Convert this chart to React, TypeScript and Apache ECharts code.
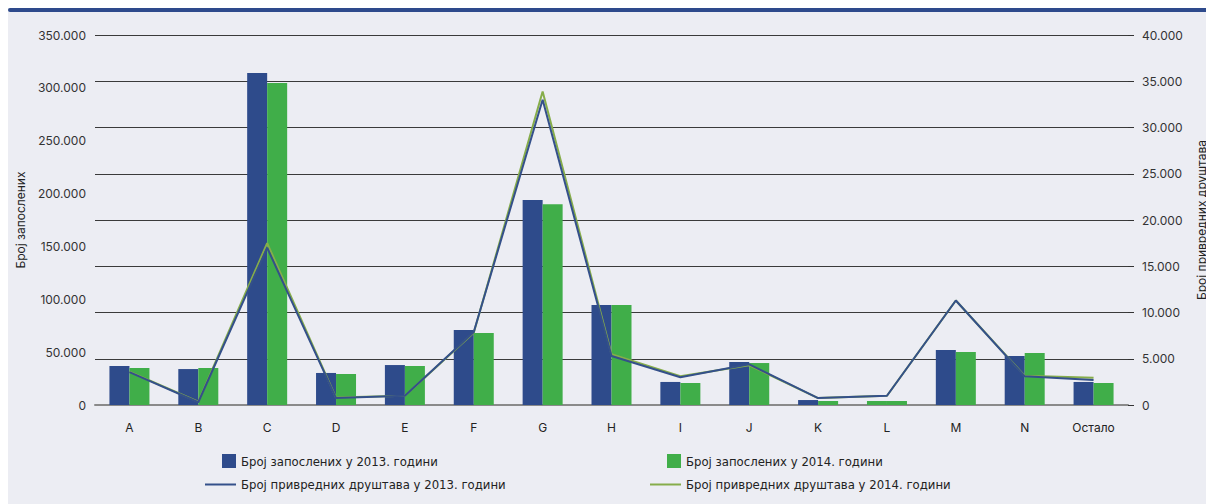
import React, { useEffect, useRef } from "react";
import * as echarts from "echarts";

const categories = ["A", "B", "C", "D", "E", "F", "G", "H", "I", "J", "K", "L", "M", "N", "Остало"];
const employees2013 = [36900, 34000, 314000, 30300, 37800, 71000, 194000, 94600, 21800, 40700, 4700, 3800, 52000, 46300, 21800];
const employees2014 = [35000, 35000, 304600, 29300, 36900, 68000, 190000, 94600, 20800, 39700, 3800, 3800, 50100, 49200, 20800];
const companies2013 = [3550, 300, 17000, 750, 1000, 7900, 33000, 5300, 3000, 4400, 750, 1000, 11300, 3100, 2700];
const companies2014 = [3600, 350, 17500, 800, 1000, 7800, 33900, 5500, 3100, 4300, 750, 1000, 11300, 3150, 2950];
const leftTicks = { min: 0, max: 350000, interval: 50000 };
const rightTicks = { min: 0, max: 40000, interval: 5000 };

const names = {
  bar13: "Број запослених у 2013. години",
  bar14: "Број запослених у 2014. години",
  line13: "Број привредних друштава у 2013. години",
  line14: "Број привредних друштава у 2014. години",
};

const BLUE = "#2e4b8b";
const GREEN = "#40ae49";
const LINE_BLUE = "#34508a";
const LINE_GREEN = "#86ad4a";
const FONT = "Inter, 'Noto Sans', sans-serif";
const LEG_FONT = "'DejaVu Sans Condensed', sans-serif";

const fmt = (v: number) => (v === 0 ? "0" : v.toLocaleString("de-DE"));

export default function App() {
  const ref = useRef<HTMLDivElement>(null);
  useEffect(() => {
    document.body.style.overflow = "hidden";
    document.documentElement.style.overflow = "hidden";
    if (!ref.current) return;
    const chart = echarts.init(ref.current, undefined, { renderer: "svg" });
    const legendText = { fontFamily: LEG_FONT, fontSize: 13, color: "#222" };
    const common = { padding: 0, textStyle: legendText };
    chart.setOption({
      animation: false,
      backgroundColor: "#ecedf3",
      graphic: [
        {
          type: "rect",
          shape: { x: 0, y: 0, width: 1206, height: 4, r: [2, 0, 0, 2] },
          style: { fill: "#2e4a8c" },
        },
      ],
      grid: { left: 87, right: 86, top: 27, bottom: 99, outerBoundsMode: "none", containLabel: false },
      legend: [
        { ...common, left: 214, top: 446, itemWidth: 14, itemHeight: 14, icon: "rect", data: [names.bar13] },
        { ...common, left: 659, top: 446, itemWidth: 14, itemHeight: 14, icon: "rect", data: [names.bar14] },
        { ...common, left: 197, top: 470, itemWidth: 31, itemHeight: 2, icon: "rect", data: [names.line13] },
        { ...common, left: 642, top: 470, itemWidth: 31, itemHeight: 2, icon: "rect", data: [names.line14] },
      ],
      xAxis: {
        type: "category",
        data: categories,
        axisLine: { lineStyle: { color: "#8a8a8a", width: 2 } },
        axisTick: { show: false },
        axisLabel: { color: "#222", fontFamily: FONT, fontSize: 12, margin: 16 },
      },
      yAxis: [
        {
          type: "value",
          ...leftTicks,
          name: "Број запослених",
          nameLocation: "middle",
          nameRotate: 90,
          nameGap: 67,
          nameTextStyle: { color: "#222", fontFamily: FONT, fontSize: 12 },
          splitLine: { show: false },
          axisLine: { show: false },
          axisTick: { show: false },
          axisLabel: { color: "#333", fontFamily: FONT, fontSize: 12, margin: 9, formatter: fmt },
        },
        {
          type: "value",
          ...rightTicks,
          position: "right",
          name: "Број привредних друштава",
          nameLocation: "middle",
          nameRotate: 90,
          nameGap: 67,
          nameTextStyle: { color: "#222", fontFamily: FONT, fontSize: 12 },
          splitLine: { lineStyle: { color: "#3a3a3a", width: 1.2 } },
          axisLine: { show: true, lineStyle: { color: "rgba(0,0,0,0)" } },
          axisTick: { show: true, length: 6, lineStyle: { color: "#333", width: 1 } },
          axisLabel: { color: "#333", fontFamily: FONT, fontSize: 12, margin: 14, formatter: fmt },
        },
      ],
      series: [
        {
          name: names.bar13,
          type: "bar",
          yAxisIndex: 0,
          barWidth: 20,
          barGap: "0%",
          itemStyle: { color: BLUE },
          data: employees2013.map((v, i) => (categories[i] === "L" ? { value: v, itemStyle: { color: GREEN } } : v)),
        },
        {
          name: names.bar14,
          type: "bar",
          yAxisIndex: 0,
          barWidth: 20,
          barGap: "0%",
          itemStyle: { color: GREEN },
          data: employees2014,
        },
        {
          name: names.line14,
          type: "line",
          yAxisIndex: 1,
          symbol: "none",
          lineStyle: { color: LINE_GREEN, width: 2 },
          itemStyle: { color: LINE_GREEN },
          data: companies2014,
        },
        {
          name: names.line13,
          type: "line",
          yAxisIndex: 1,
          symbol: "none",
          lineStyle: { color: LINE_BLUE, width: 2 },
          itemStyle: { color: LINE_BLUE },
          data: companies2013,
        },
      ],
    });
    return () => chart.dispose();
  }, []);
  return <div ref={ref} style={{ width: 1206, height: 496 }} />;
}
